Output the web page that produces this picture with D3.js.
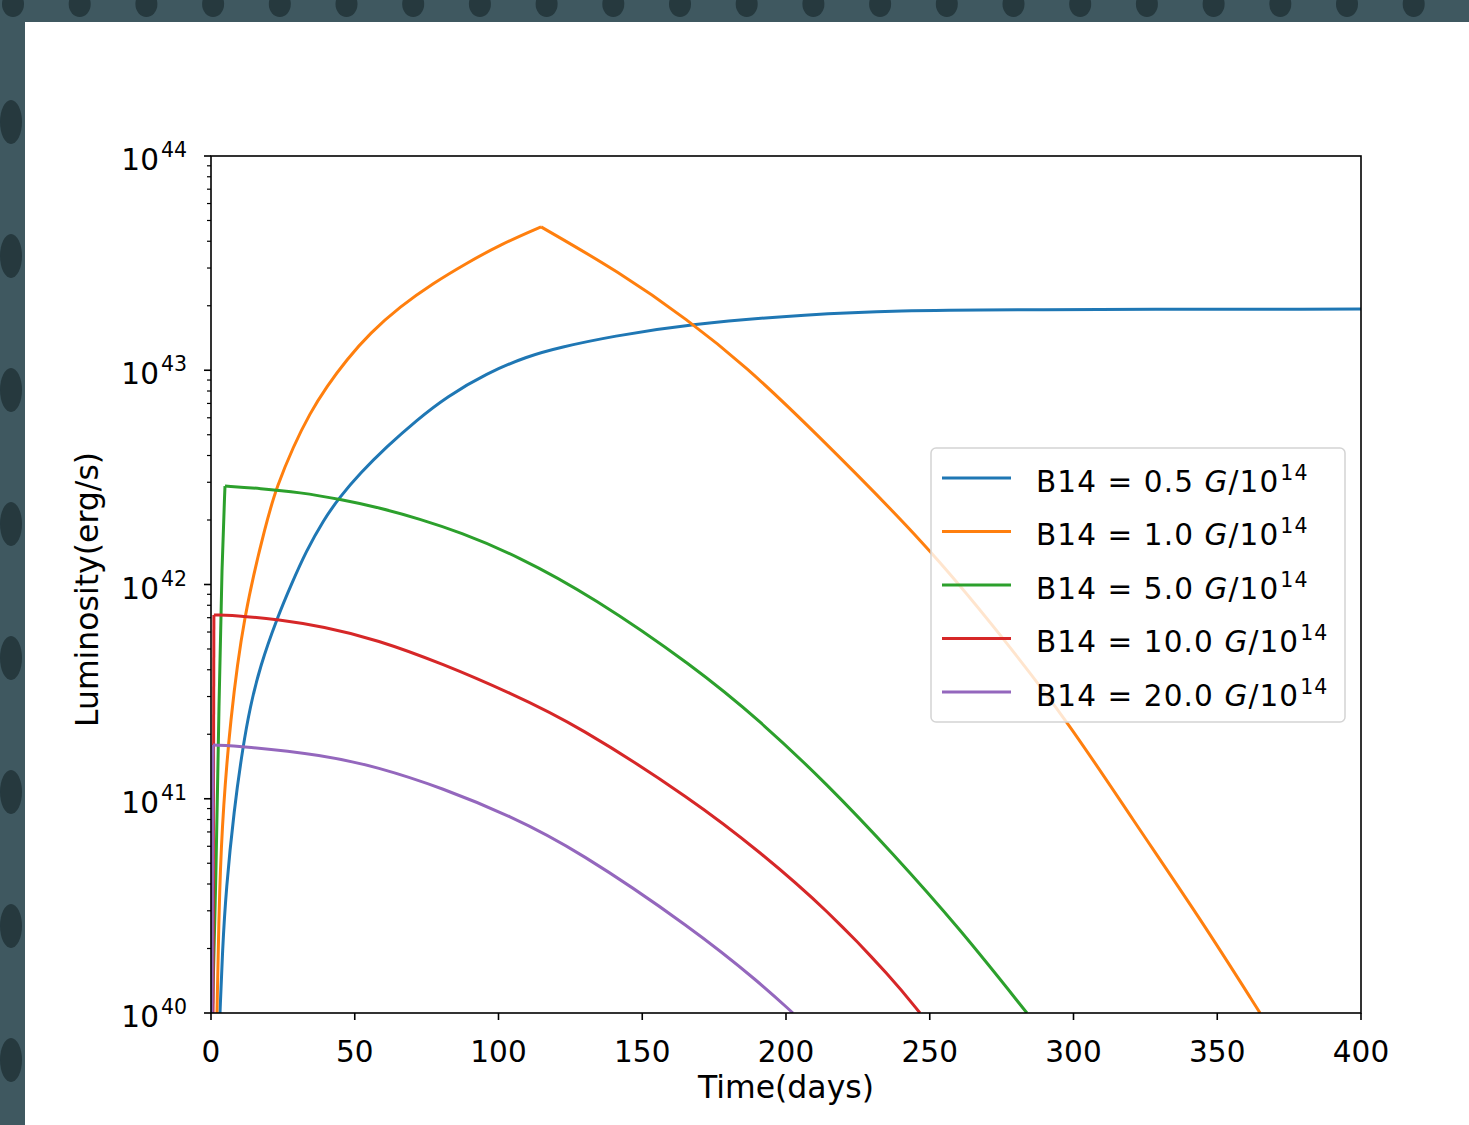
<!DOCTYPE html>
<html>
<head>
<meta charset="utf-8">
<script src="https://cdn.jsdelivr.net/npm/d3@7"></script>
<style>
  body { margin: 0; background: #3f5860; }
  svg { display: block; font-family: "DejaVu Sans", sans-serif; }
</style>
</head>
<body>
<div id="chart"></div>
<script>
// B14 field strengths, one curve each
const fields = ["0.5", "1.0", "5.0", "10.0", "20.0"];
const colors = ["#1f77b4", "#ff7f0e", "#2ca02c", "#d62728", "#9467bd"];

// time (days) and luminosity (erg/s)
const daysB05 = [3.13, 4.0, 5.22, 8.0, 11.1, 13.6, 17.0, 23.0, 28.2, 33.0, 39.1, 44.9, 51.8, 61.1, 71.6, 82.0, 95.9, 109.8, 121.4, 139.5, 165.9, 208.3, 239.7, 274.4, 400];
const lumB05  = [1.0e40, 1.97e40, 3.75e40, 8.87e40, 1.75e41, 2.68e41, 4.12e41, 6.98e41, 1.02e42, 1.42e42, 2.00e42, 2.57e42, 3.30e42, 4.40e42, 5.86e42, 7.53e42, 9.68e42, 1.16e43, 1.28e43, 1.44e43, 1.64e43, 1.83e43, 1.90e43, 1.92e43, 1.93e43];

const daysB1 = [2.09, 2.96, 4.28, 6.61, 11.2, 19.4, 22.9, 28.6, 34.4, 40.2, 47.2, 55.3, 65.7, 77.3, 88.9, 100.5, 114.8, 141.9, 165.9, 186.1, 208.3, 250.1, 273.9, 297.7, 320.7, 344.0, 364.9];
const lumB1  = [1.0e40, 4.05e40, 9.14e40, 2.26e41, 7.05e41, 2.00e42, 2.86e42, 4.40e42, 6.30e42, 8.38e42, 1.12e43, 1.49e43, 1.98e43, 2.55e43, 3.16e43, 3.85e43, 4.67e43, 2.88e43, 1.72e43, 1.04e43, 5.43e42, 1.48e42, 5.98e41, 2.33e41, 7.95e40, 2.77e40, 1.0e40];

const daysB5 = [0.5, 1.74, 2.78, 3.83, 4.87, 17.0, 31.0, 44.9, 58.8, 72.7, 86.3, 106.1, 132.9, 167.7, 191.0, 214.3, 237.2, 260.5, 283.8];
const lumB5  = [1.0e40, 4.17e40, 2.89e41, 1.30e42, 2.88e42, 2.81e42, 2.69e42, 2.50e42, 2.28e42, 2.02e42, 1.76e42, 1.37e42, 8.75e41, 4.17e41, 2.31e41, 1.17e41, 5.55e40, 2.47e40, 1.0e40];

const daysB10 = [0.7, 1.0, 11.1, 23.0, 39.0, 57.7, 80.7, 104.0, 127.3, 167.7, 191.0, 214.3, 237.2, 246.6];
const lumB10  = [1.0e40, 7.21e41, 7.13e41, 6.87e41, 6.37e41, 5.53e41, 4.26e41, 3.12e41, 2.21e41, 9.86e40, 5.64e40, 3.03e40, 1.44e40, 1.0e40];

const daysB20 = [0.35, 0.7, 11.1, 39.0, 57.7, 80.7, 104.0, 127.3, 167.7, 191.0, 202.4];
const lumB20  = [1.0e40, 1.78e41, 1.76e41, 1.60e41, 1.41e41, 1.12e41, 8.32e40, 5.77e40, 2.47e40, 1.38e40, 1.0e40];

const xTicks = [0, 50, 100, 150, 200, 250, 300, 350, 400];
const yDecades = [40, 41, 42, 43, 44];

const seriesDays = [daysB05, daysB1, daysB5, daysB10, daysB20];
const seriesLum = [lumB05, lumB1, lumB5, lumB10, lumB20];

const W = 1469, H = 1125;
const margin = {top: 156, right: 108, bottom: 112, left: 211};
const width = W - margin.left - margin.right;
const height = H - margin.top - margin.bottom;
const tickFont = 29.5, supFont = 20.5, titleFont = 31.5;

const svg = d3.select("#chart").append("svg")
    .attr("width", W)
    .attr("height", H);

// screenshot surround: dark strip with blobs, white page
svg.append("rect").attr("width", W).attr("height", H).attr("fill", "#3f5860");
const blobs = svg.append("g").attr("fill", "#26393e");
for (let cx = 13; cx < W; cx += 66.7) {
    blobs.append("ellipse").attr("cx", cx).attr("cy", 4).attr("rx", 11).attr("ry", 13);
}
for (let cy = 122; cy < H; cy += 134) {
    blobs.append("ellipse").attr("cx", 11).attr("cy", cy).attr("rx", 11).attr("ry", 22);
}
svg.append("rect").attr("x", 25).attr("y", 22).attr("width", W - 25).attr("height", H - 22).attr("fill", "#ffffff");

const g = svg.append("g").attr("transform", `translate(${margin.left},${margin.top})`);

const x = d3.scaleLinear().domain([0, 400]).range([0, width]);
const y = d3.scaleLog().domain([1e40, 1e44]).range([height, 0]);

g.append("clipPath").attr("id", "plotClip")
  .append("rect").attr("width", width).attr("height", height);

const line = d3.line()
    .x(d => x(d[0]))
    .y(d => y(d[1]))
    .curve(d3.curveBasis);

// draw each curve, split at its maximum so the kink stays sharp
const curves = g.append("g").attr("clip-path", "url(#plotClip)");
seriesDays.forEach((days, i) => {
    let pts = days.map((t, k) => [t, seriesLum[i][k]]);
    let iMax = d3.maxIndex(pts, d => d[1]);
    let parts = [pts.slice(0, iMax + 1), pts.slice(iMax)].filter(p => p.length > 1);
    parts.forEach(p => {
        curves.append("path")
            .attr("d", line(p))
            .attr("fill", "none")
            .attr("stroke", colors[i])
            .attr("stroke-width", 3)
            .attr("stroke-linejoin", "round");
    });
});

// x axis ticks
const xg = g.append("g").attr("transform", `translate(0,${height})`);
xTicks.forEach(t => {
    xg.append("line").attr("x1", x(t)).attr("x2", x(t)).attr("y1", 0).attr("y2", 7)
      .attr("stroke", "#000").attr("stroke-width", 1.6);
    xg.append("text").attr("x", x(t)).attr("y", 49)
      .attr("text-anchor", "middle").attr("font-size", tickFont).text(t);
});

// y axis, decades and minor ticks
const yg = g.append("g");
yDecades.forEach(n => {
    let v = Math.pow(10, n);
    yg.append("line").attr("x1", -7).attr("x2", 0).attr("y1", y(v)).attr("y2", y(v))
      .attr("stroke", "#000").attr("stroke-width", 1.6);
    let lbl = yg.append("text").attr("x", -24).attr("y", y(v) + 14)
      .attr("text-anchor", "end").attr("font-size", tickFont);
    lbl.append("tspan").text("10");
    lbl.append("tspan").attr("dx", 2).attr("dy", -13).attr("font-size", supFont).text(n);
    if (n < 44) {
        for (let m = 2; m <= 9; m++) {
            yg.append("line").attr("x1", -4).attr("x2", 0).attr("y1", y(m * v)).attr("y2", y(m * v))
              .attr("stroke", "#000").attr("stroke-width", 1.2);
        }
    }
});

// frame
g.append("rect").attr("width", width).attr("height", height)
  .attr("fill", "none").attr("stroke", "#000").attr("stroke-width", 1.6);

// axis titles
g.append("text").attr("x", width / 2).attr("y", height + 85)
  .attr("text-anchor", "middle").attr("font-size", titleFont).text("Time(days)");
g.append("text")
  .attr("transform", `translate(${-113},${height / 2 + 5}) rotate(-90)`)
  .attr("text-anchor", "middle").attr("font-size", titleFont).text("Luminosity(erg/s)");

// legend
const legend = g.append("g").attr("transform", `translate(${931 - margin.left},${448 - margin.top})`);
legend.append("rect").attr("width", 414).attr("height", 274).attr("rx", 5)
  .attr("fill", "#ffffff").attr("fill-opacity", 0.8)
  .attr("stroke", "#d4d4d4").attr("stroke-width", 1.5);
fields.forEach((f, i) => {
    let ly = 30 + i * 53.5;
    legend.append("line").attr("x1", 11).attr("x2", 80).attr("y1", ly).attr("y2", ly)
      .attr("stroke", colors[i]).attr("stroke-width", 3);
    let t = legend.append("text").attr("x", 105).attr("y", ly + 13.5)
      .attr("font-size", tickFont).attr("letter-spacing", 1.1);
    t.append("tspan").text(`B14 = ${f} `);
    t.append("tspan").attr("font-style", "italic").text("G");
    t.append("tspan").text("/10");
    t.append("tspan").attr("dx", 1).attr("dy", -12).attr("font-size", supFont).text("14");
});
</script>
</body>
</html>
